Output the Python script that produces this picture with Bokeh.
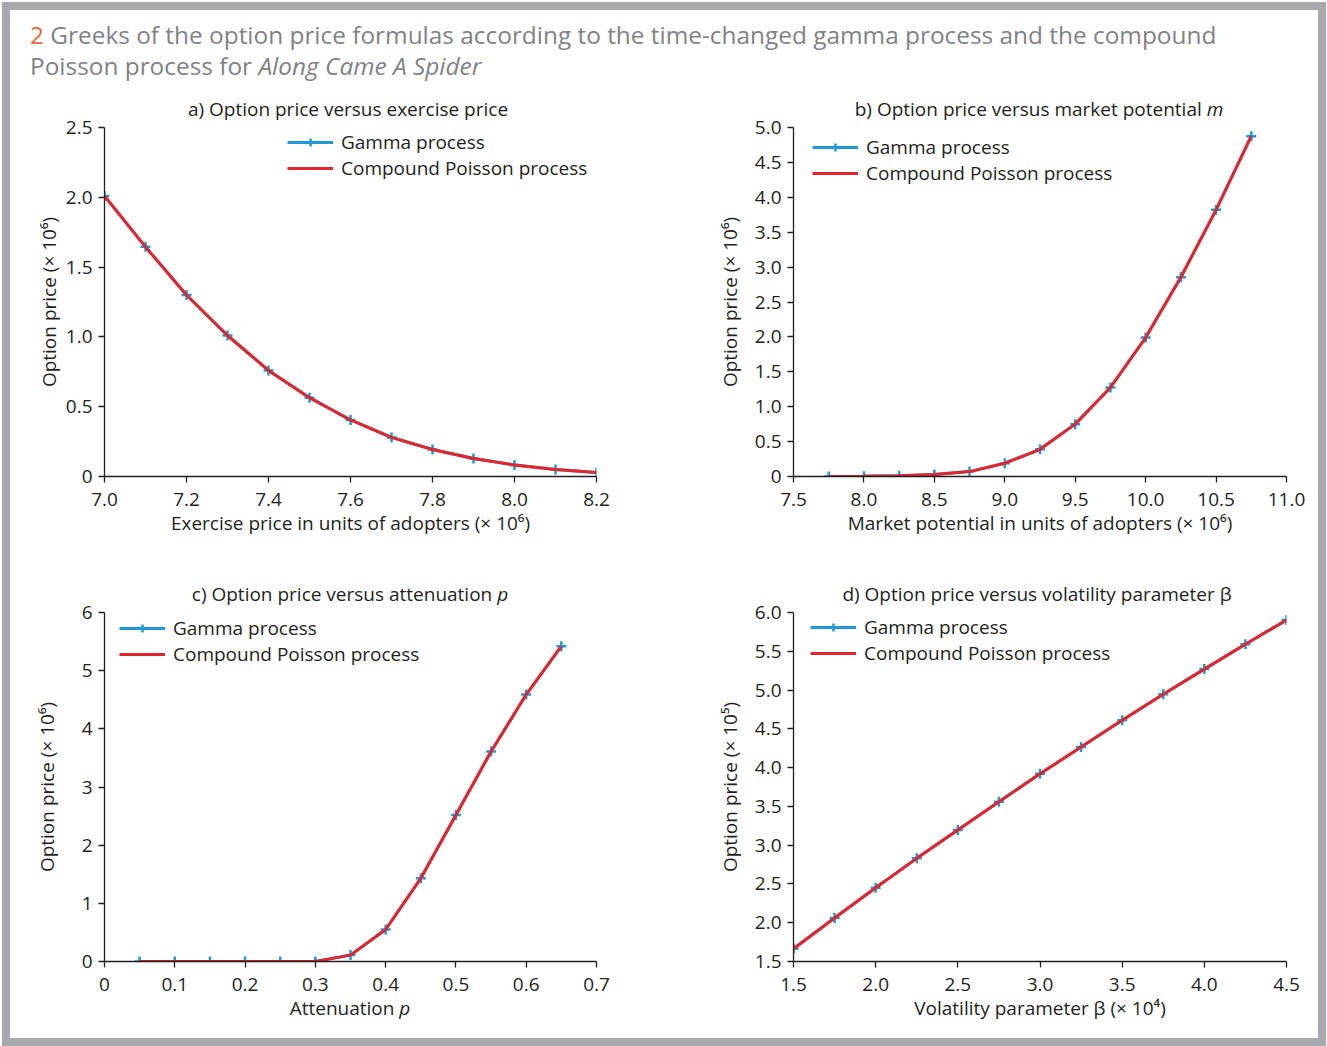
from bokeh.plotting import figure
from bokeh.models import Range1d, FixedTicker, Legend, LegendItem, Div
from bokeh.layouts import row, column
from bokeh.embed import file_html
from bokeh.resources import INLINE

FONT = "Open Sans"
TXT = "#231f20"
BLUE = "#1e9ad6"
RED = "#e3262d"
FRAME_GRAY = "#a7a9ac"
TITLE_GRAY = "#808285"

# ---------------- data ----------------
# a) Option price versus exercise price
a_x = [7.0, 7.1, 7.2, 7.3, 7.4, 7.5, 7.6, 7.7, 7.8, 7.9, 8.0, 8.1, 8.2]
a_gamma = [2.01, 1.645, 1.30, 1.01, 0.76, 0.565, 0.405, 0.28, 0.193, 0.129, 0.083, 0.05, 0.029]
a_poisson = [2.01, 1.645, 1.30, 1.01, 0.76, 0.565, 0.405, 0.28, 0.193, 0.129, 0.083, 0.05, 0.029]
a_xticks = [7.0, 7.2, 7.4, 7.6, 7.8, 8.0, 8.2]
a_xlabels = ["7.0", "7.2", "7.4", "7.6", "7.8", "8.0", "8.2"]
a_yticks = [0, 0.5, 1.0, 1.5, 2.0, 2.5]
a_ylabels = ["0", "0.5", "1.0", "1.5", "2.0", "2.5"]

# b) Option price versus market potential m
b_x = [7.75, 8.0, 8.25, 8.5, 8.75, 9.0, 9.25, 9.5, 9.75, 10.0, 10.25, 10.5, 10.75]
b_gamma = [0.0, 0.003, 0.01, 0.03, 0.07, 0.19, 0.39, 0.75, 1.275, 1.99, 2.855, 3.82, 4.875]
b_poisson = [0.0, 0.003, 0.01, 0.03, 0.07, 0.19, 0.39, 0.75, 1.275, 1.99, 2.855, 3.82, 4.875]
b_xticks = [7.5, 8.0, 8.5, 9.0, 9.5, 10.0, 10.5, 11.0]
b_xlabels = ["7.5", "8.0", "8.5", "9.0", "9.5", "10.0", "10.5", "11.0"]
b_yticks = [0, 0.5, 1.0, 1.5, 2.0, 2.5, 3.0, 3.5, 4.0, 4.5, 5.0]
b_ylabels = ["0", "0.5", "1.0", "1.5", "2.0", "2.5", "3.0", "3.5", "4.0", "4.5", "5.0"]

# c) Option price versus attenuation p
c_x = [0.05, 0.1, 0.15, 0.2, 0.25, 0.3, 0.35, 0.4, 0.45, 0.5, 0.55, 0.6, 0.65]
c_gamma = [0.0, 0.0, 0.0, 0.0, 0.0, 0.002, 0.11, 0.55, 1.43, 2.52, 3.61, 4.59, 5.42]
c_poisson = [0.0, 0.0, 0.0, 0.0, 0.0, 0.002, 0.11, 0.55, 1.43, 2.52, 3.61, 4.59, 5.42]
c_xticks = [0, 0.1, 0.2, 0.3, 0.4, 0.5, 0.6, 0.7]
c_xlabels = ["0", "0.1", "0.2", "0.3", "0.4", "0.5", "0.6", "0.7"]
c_yticks = [0, 1, 2, 3, 4, 5, 6]
c_ylabels = ["0", "1", "2", "3", "4", "5", "6"]

# d) Option price versus volatility parameter beta
d_x = [1.5, 1.75, 2.0, 2.25, 2.5, 2.75, 3.0, 3.25, 3.5, 3.75, 4.0, 4.25, 4.5]
d_gamma = [1.664, 2.06, 2.45, 2.83, 3.195, 3.56, 3.92, 4.265, 4.61, 4.946, 5.27, 5.59, 5.904]
d_poisson = [1.664, 2.06, 2.45, 2.83, 3.195, 3.56, 3.92, 4.265, 4.61, 4.946, 5.27, 5.59, 5.904]
d_xticks = [1.5, 2.0, 2.5, 3.0, 3.5, 4.0, 4.5]
d_xlabels = ["1.5", "2.0", "2.5", "3.0", "3.5", "4.0", "4.5"]
d_yticks = [1.5, 2.0, 2.5, 3.0, 3.5, 4.0, 4.5, 5.0, 5.5, 6.0]
d_ylabels = ["1.5", "2.0", "2.5", "3.0", "3.5", "4.0", "4.5", "5.0", "5.5", "6.0"]

series_names = ["Gamma process", "Compound Poisson process"]


def panel(x, g, cp, xr, yr, xt, xl, yt, yl, width, height, borders, legend_loc,
          ylabel, ylabel_standoff, xlabel=None, xlabel_standoff=1):
    bl, br, bt, bb = borders
    p = figure(width=width, height=height, output_backend="svg", toolbar_location=None,
               x_range=Range1d(*xr), y_range=Range1d(*yr),
               min_border_left=bl, min_border_right=br, min_border_top=bt,
               min_border_bottom=bb, margin=0)
    p.outline_line_color = None
    p.border_fill_alpha = 0
    p.grid.visible = False
    for ax in (p.xaxis[0], p.yaxis[0]):
        ax.axis_line_color = TXT
        ax.axis_line_width = 1.3
        ax.major_tick_line_color = TXT
        ax.major_tick_line_width = 1.3
        ax.major_tick_out = 6
        ax.major_tick_in = 0
        ax.minor_tick_line_color = None
        ax.major_label_text_font = FONT
        ax.major_label_text_font_size = "19px"
        ax.major_label_text_color = TXT
        ax.axis_label_text_font = FONT
        ax.axis_label_text_font_size = "19px"
        ax.axis_label_text_color = TXT
        ax.axis_label_text_font_style = "normal"
    xa, ya = p.xaxis[0], p.yaxis[0]
    xa.ticker = FixedTicker(ticks=xt)
    xa.major_label_overrides = dict(zip(xt, xl))
    xa.major_label_standoff = 10
    if xlabel:
        xa.axis_label = xlabel
        xa.axis_label_standoff = xlabel_standoff
    ya.ticker = FixedTicker(ticks=yt)
    ya.major_label_overrides = dict(zip(yt, yl))
    ya.major_label_standoff = 6
    ya.axis_label = ylabel
    ya.axis_label_standoff = ylabel_standoff

    gl = p.line(x, g, line_color=BLUE, line_width=3)
    gm = p.scatter(x, g, marker="cross", size=10, line_color=BLUE, line_width=2.5)
    rl = p.line(x, cp, line_color=RED, line_width=3)

    leg = Legend(items=[LegendItem(label=series_names[0], renderers=[gl, gm]),
                        LegendItem(label=series_names[1], renderers=[rl])],
                 location=legend_loc, orientation="vertical",
                 border_line_color=None, background_fill_alpha=0,
                 padding=0, margin=0, spacing=0, glyph_width=46, glyph_height=20,
                 label_height=20, label_standoff=8, label_text_font=FONT,
                 label_text_font_size="19px", label_text_color=TXT)
    p.add_layout(leg)
    return p


def text_div(html, width, height, center, pad_top, line_h=26, size="19px"):
    inner = ('<div style="margin:0 0 0 %dpx;padding:%dpx 0 0 0;width:600px;text-align:center;'
             'font-family:\'Open Sans\';font-size:%s;line-height:%dpx;color:%s;white-space:nowrap;">%s</div>'
             % (center - 300, pad_top, size, line_h, TXT, html))
    return Div(text=inner, width=width, height=height, margin=0)


LEFT_W, RIGHT_W = 650, 658
LB = (94, 64)
RB = (133, 32)

pa = panel(a_x, a_gamma, a_poisson, (7.0, 8.2), (0, 2.5), a_xticks, a_xlabels, a_yticks, a_ylabels,
           LEFT_W, 470, (LB[0], LB[1], 17, 104), (183, 295),
           "Option price (\u00d7 10\u2076)", 1,
           "Exercise price in units of adopters (\u00d7 10\u2076)", 1)
pb = panel(b_x, b_gamma, b_poisson, (7.5, 11.0), (0, 5.0), b_xticks, b_xlabels, b_yticks, b_ylabels,
           RIGHT_W, 470, (RB[0], RB[1], 17, 104), (19, 290),
           "Option price (\u00d7 10\u2076)", 9,
           "Market potential in units of adopters (\u00d7 10\u2076)", 1)
pc = panel(c_x, c_gamma, c_poisson, (0, 0.7), (0, 6), c_xticks, c_xlabels, c_yticks, c_ylabels,
           LEFT_W, 402, (LB[0], LB[1], 17, 36), (15, 294),
           "Option price (\u00d7 10\u2076)", 19)
pd_ = panel(d_x, d_gamma, d_poisson, (1.5, 4.5), (1.5, 6.0), d_xticks, d_xlabels, d_yticks, d_ylabels,
            RIGHT_W, 443, (RB[0], RB[1], 17, 77), (17, 295),
            "Option price (\u00d7 10\u2075)", 9,
            "Volatility parameter \u03b2 (\u00d7 10\u2074)", 1)

ta = text_div("a) Option price versus exercise price", LEFT_W, 32, 338, 6)
tb = text_div("b) Option price versus market potential <i>m</i>", RIGHT_W, 32, 379, 6)
tc = text_div("c) Option price versus attenuation <i>p</i>", LEFT_W, 27, 340, 1)
td = text_div("d) Option price versus volatility parameter \u03b2", RIGHT_W, 27, 377, 1)
xc = text_div("Attenuation <i>p</i>", LEFT_W, 41, 340, 0, line_h=22)

title_html = (
    '<div style="margin:0;padding:9px 0 0 20px;font-family:\'Open Sans\';font-size:24.4px;'
    'line-height:31px;color:%s;white-space:nowrap;">'
    '<span style="color:#e6673f">2</span> Greeks of the option price formulas according to the '
    'time-changed gamma process and the compound<br>Poisson process for <i>Along Came A Spider</i></div>'
    % TITLE_GRAY
)
title_div = Div(text=title_html, width=1308, height=80, margin=0)

INNER_W, INNER_H = 1308, 1028
B = 8
top_bar = Div(text="", width=INNER_W + 2 * B, height=B, margin=0,
              styles={"background-color": FRAME_GRAY})
bot_bar = Div(text="", width=INNER_W + 2 * B, height=B, margin=0,
              styles={"background-color": FRAME_GRAY})
left_bar = Div(text="", width=B, height=INNER_H, margin=0,
               styles={"background-color": FRAME_GRAY})
right_bar = Div(text="", width=B, height=INNER_H, margin=0,
                styles={"background-color": FRAME_GRAY})

overlay = {"margin": "0px 0px -12px 0px", "position": "relative", "z-index": "2"}
title_row1 = row(ta, tb, spacing=0, styles=overlay)
title_row2 = row(tc, td, spacing=0, styles=overlay)

inner = column(title_div,
               title_row1,
               row(pa, pb, spacing=0),
               title_row2,
               row(column(pc, xc, spacing=0), pd_, spacing=0),
               spacing=0)
root = column(top_bar, row(left_bar, inner, right_bar, spacing=0), bot_bar, spacing=0,
              styles={"margin": "2px 0 0 2px"})

open("out.html", "w").write(file_html(root, INLINE))
